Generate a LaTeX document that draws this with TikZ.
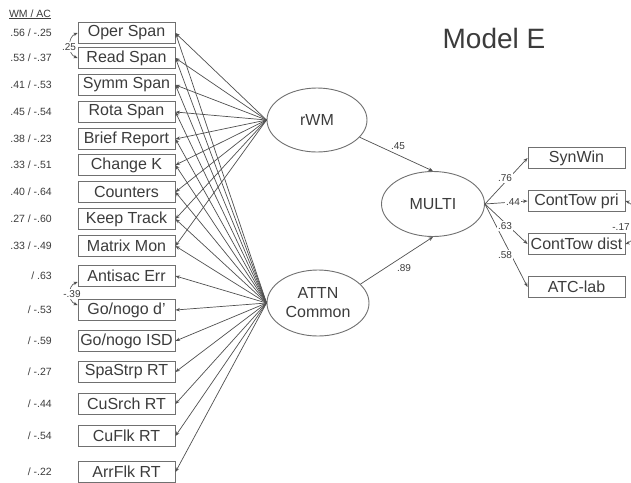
\documentclass[tikz,border=0pt]{standalone}
\usepackage{fontspec}
\setmainfont{Liberation Sans}
\usetikzlibrary{arrows.meta,shapes.geometric}
\definecolor{ln}{HTML}{505050}
\definecolor{bx}{HTML}{707070}
\definecolor{tx}{HTML}{3C3C3C}
\tikzset{
  obs/.style={draw=bx, line width=0.9pt, minimum width=97pt, minimum height=21pt, inner sep=0pt, font=\fontsize{16}{18}\selectfont, text=tx},
  lat/.style={draw=bx, line width=0.9pt, ellipse, inner sep=0pt, font=\fontsize{16}{19}\selectfont, text=tx, align=center},
  load/.style={draw=ln, line width=0.7pt, -{Stealth[length=4.5pt,width=3.5pt]}},
  val/.style={font=\fontsize{10.5}{12}\selectfont, text=tx, anchor=east, inner sep=0pt},
  coef/.style={font=\fontsize{10}{11}\selectfont, text=tx, fill=white, inner sep=1pt},
  cov/.style={draw=ln, line width=0.6pt, {Stealth[length=4pt,width=3.5pt]}-{Stealth[length=4pt,width=3.5pt]}}
}
\begin{document}
\begin{tikzpicture}[x=1pt,y=-1pt]
\useasboundingbox (0,0) rectangle (631,482);
\fill[white] (0,0) rectangle (631,482);

% title
\node[font=\fontsize{28}{30}\selectfont, text=tx, anchor=base] (title) at (494,48) {Model E};
\node[val, anchor=base] (hdr) at (30,17) {\underline{WM / AC}};

% WM indicators
\node[obs] (w1) at (126.5,33)  {Oper Span};
\node[obs] (w2) at (126.5,58)  {Read Span};
\node[obs] (w3) at (126.5,85)  {Symm Span};
\node[obs] (w4) at (126.5,112) {Rota Span};
\node[obs] (w5) at (126.5,139) {Brief Report};
\node[obs] (w6) at (126.5,165) {Change K};
\node[obs] (w7) at (126.5,192) {Counters};
\node[obs] (w8) at (126.5,219) {Keep Track};
\node[obs] (w9) at (126.5,246) {Matrix Mon};
% attention indicators
\node[obs] (a1) at (126.5,276) {Antisac Err};
\node[obs] (a2) at (126.5,310) {Go/nogo d'};
\node[obs] (a3) at (126.5,341) {Go/nogo ISD};
\node[obs] (a4) at (126.5,372) {SpaStrp RT};
\node[obs] (a5) at (126.5,404) {CuSrch RT};
\node[obs] (a6) at (126.5,436) {CuFlk RT};
\node[obs] (a7) at (126.5,472) {ArrFlk RT};

% loading values
\node[val] (v1) at (52,33)  {.56 / -.25};
\node[val] (v2) at (52,58)  {.53 / -.37};
\node[val] (v3) at (52,85)  {.41 / -.53};
\node[val] (v4) at (52,112) {.45 / -.54};
\node[val] (v5) at (52,139) {.38 / -.23};
\node[val] (v6) at (52,165) {.33 / -.51};
\node[val] (v7) at (52,192) {.40 / -.64};
\node[val] (v8) at (52,219) {.27 / -.60};
\node[val] (v9) at (52,246) {.33 / -.49};
\node[val] (u1) at (52,276) {/ .63};
\node[val] (u2) at (52,310) {/ -.53};
\node[val] (u3) at (52,341) {/ -.59};
\node[val] (u4) at (52,372) {/ -.27};
\node[val] (u5) at (52,404) {/ -.44};
\node[val] (u6) at (52,436) {/ -.54};
\node[val] (u7) at (52,472) {/ -.22};

% latent factors
\node[lat, minimum width=100pt, minimum height=64pt] (rwm) at (317,120) {rWM};
\node[lat, minimum width=102pt, minimum height=66pt] (attn) at (318,303) {ATTN\\Common};
\node[lat, minimum width=103pt, minimum height=65pt] (multi) at (433,204) {MULTI};

% outcome indicators
\node[obs] (c1) at (576.5,158) {SynWin};
\node[obs] (c2) at (576.5,201) {ContTow pri};
\node[obs] (c3) at (576.5,244) {ContTow dist};
\node[obs] (c4) at (576.5,287) {ATC-lab};

% loadings
\foreach \b in {w1,w2,w3,w4,w5,w6,w7,w8,w9}
  \draw[load] (rwm.west) -- (\b.east);
\foreach \b in {w1,w2,w3,w4,w5,w6,w7,w8,w9,a1,a2,a3,a4,a5,a6,a7}
  \draw[load] (attn.west) -- (\b.east);

% structural paths
\draw[load] (rwm.-22) -- (multi.north);
\draw[load] (attn.24) -- (multi.south);
\foreach \b in {c1,c2,c3,c4}
  \draw[load] (multi.east) -- (\b.west);

% covariances
\draw[cov] (w1.west) .. controls +(-10,4) and +(-10,-4) .. (w2.west);
\draw[cov] ([yshift=-6pt]a1.west) .. controls +(-10,4) and +(-10,-4) .. ([yshift=5pt]a2.west);
\draw[cov] (c2.east) .. controls +(14,5) and +(14,-5) .. (c3.east);

% coefficient labels
\node[coef] (k1) at (69,47) {.25};
\node[coef] (k2) at (72,294) {-.39};
\node[coef] (k3) at (621,227) {-.17};
\node[coef] (k4) at (398,146) {.45};
\node[coef] (k5) at (404,268) {.89};
\node[coef] (k6) at (505,178) {.76};
\node[coef] (k7) at (513,202) {.44};
\node[coef] (k8) at (505,226) {.63};
\node[coef] (k9) at (505,255) {.58};
\end{tikzpicture}
\end{document}
